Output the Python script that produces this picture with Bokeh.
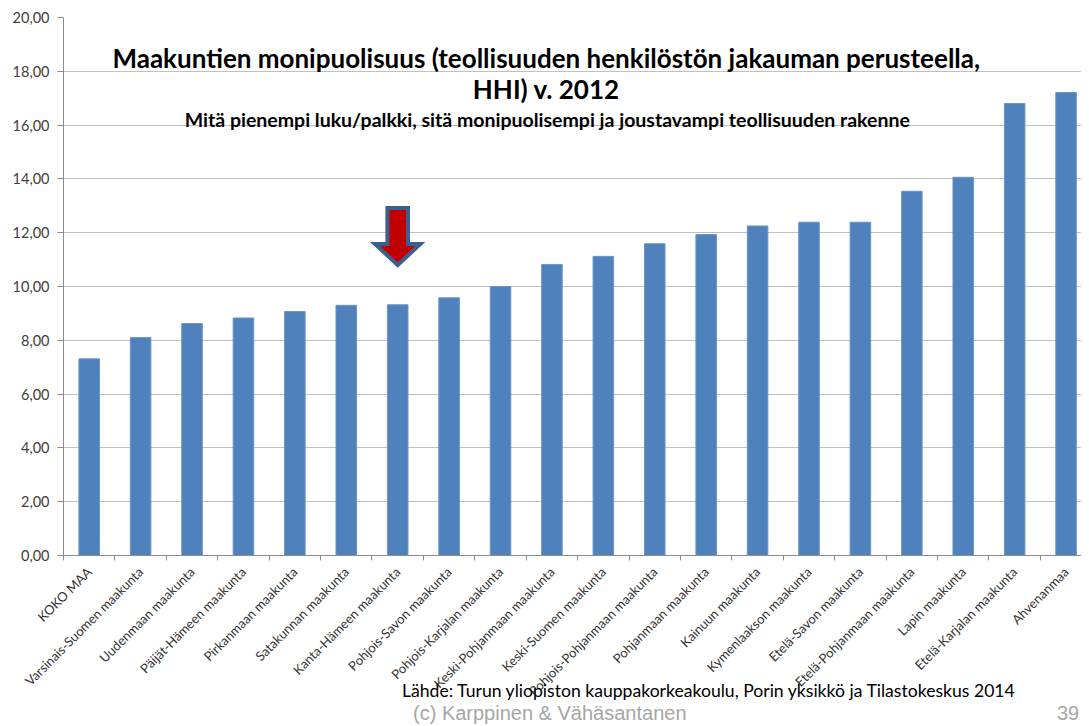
from bokeh.plotting import figure
from bokeh.models import Range1d, FixedTicker, Label, Div
from bokeh.layouts import column
from bokeh.embed import file_html
from bokeh.resources import INLINE
import math

regions = ["KOKO MAA", "Varsinais-Suomen maakunta", "Uudenmaan maakunta",
           "Päijät-Hämeen maakunta", "Pirkanmaan maakunta", "Satakunnan maakunta",
           "Kanta-Hämeen maakunta", "Pohjois-Savon maakunta", "Pohjois-Karjalan maakunta",
           "Keski-Pohjanmaan maakunta", "Keski-Suomen maakunta", "Pohjois-Pohjanmaan maakunta",
           "Pohjanmaan maakunta", "Kainuun maakunta", "Kymenlaakson maakunta",
           "Etelä-Savon maakunta", "Etelä-Pohjanmaan maakunta", "Lapin maakunta",
           "Etelä-Karjalan maakunta", "Ahvenanmaa"]
hhi = [7.31, 8.10, 8.62, 8.83, 9.07, 9.30, 9.32, 9.58, 10.00, 10.82,
       11.12, 11.59, 11.93, 12.25, 12.39, 12.39, 13.54, 14.06, 16.80, 17.21]
y_ticks = [0, 2, 4, 6, 8, 10, 12, 14, 16, 18, 20]
y_tick_labels = ["0,00", "2,00", "4,00", "6,00", "8,00", "10,00",
                 "12,00", "14,00", "16,00", "18,00", "20,00"]
highlight = "Kanta-Hämeen maakunta"

title_1 = "Maakuntien monipuolisuus (teollisuuden henkilöstön jakauman perusteella,"
title_2 = "HHI) v. 2012"
subtitle = "Mitä pienempi luku/palkki, sitä monipuolisempi ja joustavampi teollisuuden rakenne"
source = "Lähde: Turun yliopiston kauppakorkeakoulu, Porin yksikkö ja Tilastokeskus 2014"
credit = "(c) Karppinen &amp; Vähäsantanen"
page_no = "39"

FONT = "Lato"
n = len(regions)
centers = [i + 0.5 for i in range(n)]
bounds = [float(i) for i in range(n + 1)]

p = figure(width=1081, height=718, output_backend="svg", toolbar_location=None,
           x_range=Range1d(0, 19.8), y_range=Range1d(0, 20),
           min_border_left=63, min_border_right=0, min_border_top=17, min_border_bottom=163)
p.outline_line_color = None
p.background_fill_color = "white"
p.border_fill_alpha = 0.0

p.vbar(x=centers, top=hhi, width=0.4, bottom=0,
       fill_color="#4f81bd", line_color="#6a95c8", line_width=1)

# axes
grid_col = "#c0c0c0"
axis_col = "#8c8c8c"
p.xgrid.grid_line_color = None
p.ygrid.grid_line_color = grid_col
p.ygrid.ticker = FixedTicker(ticks=y_ticks)

p.yaxis.ticker = FixedTicker(ticks=y_ticks)
p.yaxis.major_label_overrides = {float(t): l for t, l in zip(y_ticks, y_tick_labels)}
p.yaxis.axis_line_color = axis_col
p.yaxis.major_tick_line_color = axis_col
p.yaxis.major_tick_out = 6
p.yaxis.major_tick_in = 0
p.yaxis.minor_tick_line_color = None
p.yaxis.major_label_text_font = FONT
p.yaxis.major_label_text_font_size = "14.5px"
p.yaxis.major_label_text_color = "#404040"
p.yaxis.major_label_standoff = 8

p.xaxis.ticker = FixedTicker(ticks=centers, minor_ticks=bounds)
p.xaxis.major_label_overrides = {float(c): r for c, r in zip(centers, regions)}
p.xaxis.major_label_orientation = math.pi / 4
p.xaxis.axis_line_color = axis_col
p.xaxis.major_tick_line_color = None
p.xaxis.minor_tick_line_color = axis_col
p.xaxis.minor_tick_out = 5
p.xaxis.minor_tick_in = 0
p.xaxis.major_label_text_font = FONT
p.xaxis.major_label_text_font_size = "13px"
p.xaxis.major_label_text_color = "#333333"
p.xaxis.major_label_standoff = 8

# titles
p.add_layout(Label(x=9.39, y=18.49, text=title_1, text_font=FONT, text_font_size="26px",
                   text_font_style="bold", text_align="center", text_baseline="middle",
                   text_color="black"))
p.add_layout(Label(x=9.39, y=17.34, text=title_2, text_font=FONT, text_font_size="26px",
                   text_font_style="bold", text_align="center", text_baseline="middle",
                   text_color="black"))
p.add_layout(Label(x=9.41, y=16.22, text=subtitle, text_font=FONT, text_font_size="19.5px",
                   text_font_style="bold", text_align="center", text_baseline="middle",
                   text_color="black"))

# arrow pointing at highlighted bar
hi = regions.index(highlight)
cx = hi + 0.5
tip = hhi[hi] + 1.48
base = tip + 0.78
top = tip + 2.12
sw, hw = 0.2, 0.44
p.patch(x=[cx - sw, cx + sw, cx + sw, cx + hw, cx, cx - hw, cx - sw],
        y=[top, top, base, base, tip, base, base],
        fill_color="#c00000", line_color="#3d5f8e", line_width=4, line_join="miter")

# footer texts (HTML overlay below the chart)
footer_html = (
    '<div style="position:relative;width:1081px;height:46px;">'
    '<span style="position:absolute;left:402px;top:1px;line-height:20px;white-space:nowrap;'
    'font-family:Lato;font-size:17.6px;color:#000000;">' + source + '</span>'
    '<span style="position:absolute;left:413px;top:23px;line-height:20px;white-space:nowrap;'
    'font-family:\'Liberation Sans\';font-size:20px;color:#a6a6a6;">' + credit + '</span>'
    '<span style="position:absolute;left:1057px;top:23px;line-height:20px;white-space:nowrap;'
    'font-family:\'Liberation Sans\';font-size:20px;color:#a6a6a6;">' + page_no + '</span>'
    '</div>'
)
footer = Div(text=footer_html, width=1081, height=46, margin=(-38, 0, 0, 0))

layout = column(p, footer, spacing=0)
open("out.html", "w").write(file_html(layout, INLINE))
